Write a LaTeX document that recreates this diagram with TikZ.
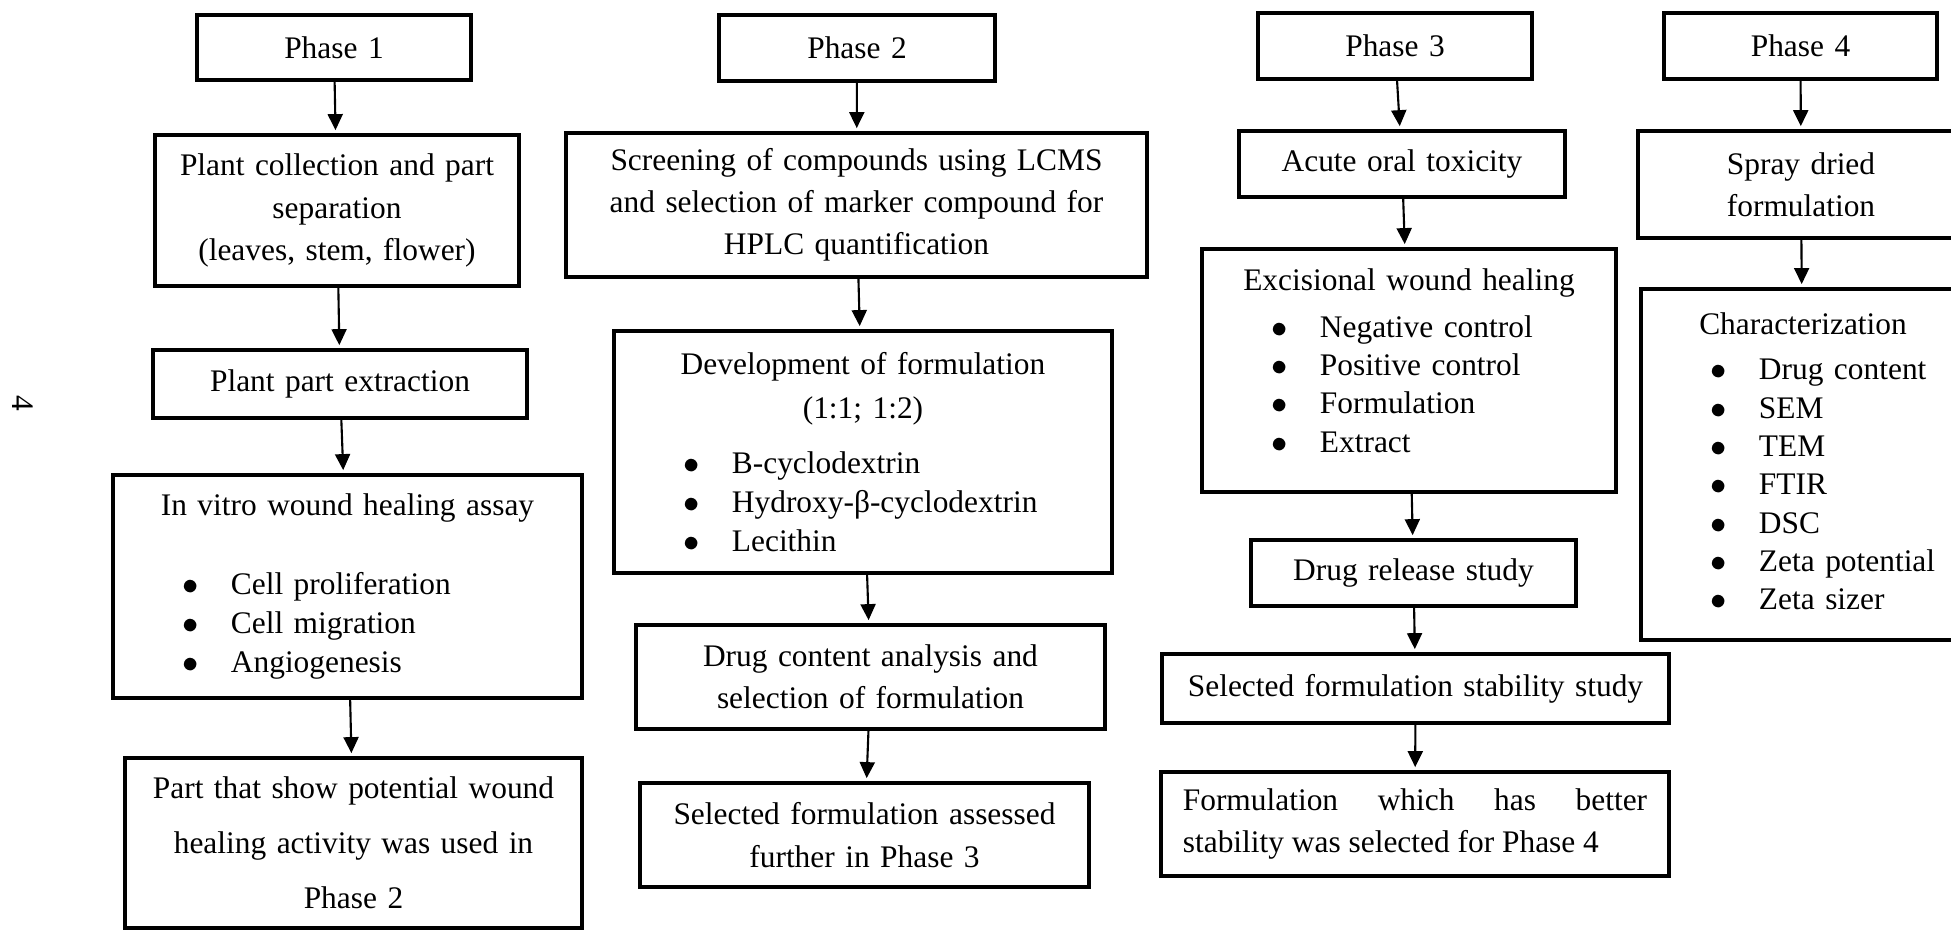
\documentclass[tikz,border=0pt]{standalone}
\usepackage{fontspec}
\setmainfont{Liberation Serif}
\usetikzlibrary{arrows.meta}

\newcommand{\bul}[1]{\makebox[\linewidth][l]{\hspace*{0.70cm}\makebox[0.48cm][l]{$\bullet$}#1}}

\begin{document}
\begin{tikzpicture}[x=0.01cm, y=-0.01cm,
                    box/.style={draw, line width=1.15pt, inner sep=0pt, align=center, font=\fontsize{8.93}{12}\selectfont},
                    boxsize/.style 2 args={minimum width=#1cm, text width=#1cm, minimum height=#2cm},
                    arr/.style={-{Triangle[length=0.16cm, width=0.15cm]}, line width=0.6pt, shorten >=0.8pt}]
\useasboundingbox (0,0) rectangle (1951,930);
\clip (0,0) rectangle (1951,930);

% phase 1
\node[box, boxsize={2.74}{0.65}] (ph1) at (334,47.5) {Phase 1};
\node[box, boxsize={3.64}{1.51}] (collect) at (337,210.5) {Plant collection and part\\ separation\\ (leaves, stem, flower)};
\node[box, boxsize={3.74}{0.68}] (extract) at (340,384) {Plant part extraction};
\node[box, boxsize={4.69}{2.23}] (vitro) at (347.5,586.5)
{
In vitro wound healing assay\\[10.2pt]
\bul{Cell proliferation}\\[-0.9pt]
\bul{Cell migration}\\[-0.9pt]
\bul{Angiogenesis}
};
\node[box, boxsize={4.57}{1.70}] (potential) at (353.5,843) {Part that show potential wound\\[3.7pt] healing activity was used in\\[3.7pt] Phase 2};

% phase 2
\node[box, boxsize={2.76}{0.66}] (ph2) at (857,48) {Phase 2};
\node[box, boxsize={5.81}{1.44}] (screen) at (856.5,205) {Screening of compounds using LCMS\\ and selection of marker compound for\\ HPLC quantification};
\node[box, boxsize={4.98}{2.42}] (develop) at (863,452)
{
Development of formulation\\[0.5pt]
(1:1; 1:2)\\[3.6pt]
\bul{B-cyclodextrin}\\[-1pt]
\bul{Hydroxy-β-cyclodextrin}\\[-1pt]
\bul{Lecithin}
};
\node[box, boxsize={4.69}{1.04}] (content) at (870.5,677) {Drug content analysis and\\ selection of formulation};
\node[box, boxsize={4.49}{1.04}] (assess) at (864.5,835) {Selected formulation assessed\\ further in Phase 3};

% phase 3
\node[box, boxsize={2.74}{0.66}] (ph3) at (1395,46) {Phase 3};
\node[box, boxsize={3.26}{0.66}] (acute) at (1402,164) {Acute oral toxicity};
\node[box, boxsize={4.14}{2.43}] (excis) at (1409,370.5)
{
Excisional wound healing\\[1.2pt]
\bul{Negative control}\\[-1.1pt]
\bul{Positive control}\\[-1.1pt]
\bul{Formulation}\\[-1.1pt]
\bul{Extract}\rule[-0.2cm]{0pt}{0.2cm}
};
\node[box, boxsize={3.25}{0.66}] (release) at (1413.5,573) {Drug release study};
\node[box, boxsize={5.07}{0.69}] (stable) at (1415.5,688.5) {Selected formulation stability study};
\node[box, boxsize={5.08}{1.04}, text width=4.64cm, align=justify] (better) at (1415,824) {Formulation which has better\linebreak stability was selected for Phase 4};

% phase 4
\node[box, boxsize={2.73}{0.66}] (ph4) at (1800.5,46) {Phase 4};
\node[box, boxsize={3.26}{1.07}] (spray) at (1801,184.5) {Spray dried\\ formulation};
\node[box, boxsize={3.24}{3.51}] (charac) at (1803,464.5)
{
Characterization\\[0.8pt]
\bul{Drug content}\\[-1.1pt]
\bul{SEM}\\[-1.1pt]
\bul{TEM}\\[-1.1pt]
\bul{FTIR}\\[-1.1pt]
\bul{DSC}\\[-1.1pt]
\bul{Zeta potential}\\[-1.1pt]
\bul{Zeta sizer}\rule[-0.06cm]{0pt}{0.06cm}
};

% page number
\node[rotate=-90, font=\fontsize{8.93}{12}\selectfont] (pagenum) at (23,403) {4};

\draw[arr] (ph1) -- (collect);
\draw[arr] (collect) -- (extract);
\draw[arr] (extract) -- (vitro);
\draw[arr] (vitro) -- (potential);

\draw[arr] (ph2) -- (screen);
\draw[arr] (screen) -- (develop);
\draw[arr] (develop) -- (content);
\draw[arr] (content) -- (assess);

\draw[arr] (ph3) -- (acute);
\draw[arr] (acute) -- (excis);
\draw[arr] (excis) -- (release);
\draw[arr] (release) -- (stable);
\draw[arr] (stable) -- (better);

\draw[arr] (ph4) -- (spray);
\draw[arr] (spray) -- (charac);
\end{tikzpicture}
\end{document}
